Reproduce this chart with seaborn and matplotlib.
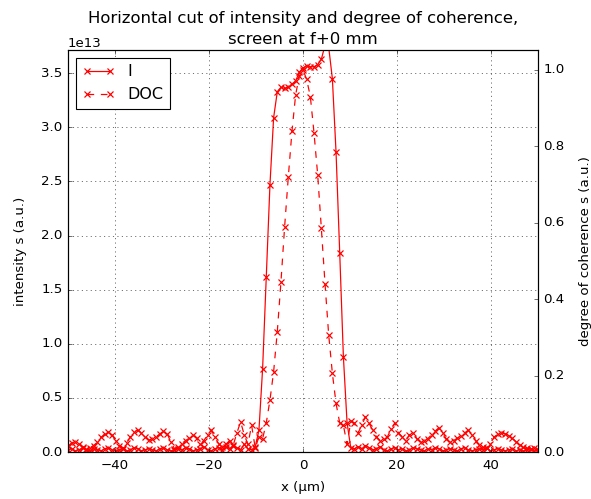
import numpy as np
import pandas as pd
import matplotlib
matplotlib.use("Agg")
import matplotlib.pyplot as plt
import seaborn as sns

plt.style.use("classic")
plt.rcParams["xtick.major.pad"] = 6
plt.rcParams["ytick.major.pad"] = 5

# sample grid (µm)
x_um = np.linspace(-50, 50, 129)

# intensity in units of 1e13
intensity_e13 = [
    0.02, 0.03, 0.01, 0.02, 0.04, 0.02, 0.01, 0.03, 0.02, 0.01,
    0.03, 0.04, 0.02, 0.01, 0.02, 0.03, 0.01, 0.02, 0.04, 0.03,
    0.01, 0.02, 0.03, 0.02, 0.01, 0.03, 0.04, 0.02, 0.01, 0.02,
    0.03, 0.02, 0.04, 0.03, 0.01, 0.02, 0.03, 0.05, 0.02, 0.01,
    0.03, 0.04, 0.02, 0.05, 0.03, 0.06, 0.04, 0.02, 0.07, 0.03,
    0.02, 0.05, 0.20, 0.77, 1.62, 2.47, 3.09, 3.33, 3.37, 3.36,
    3.37, 3.40, 3.43, 3.51, 3.55, 3.57, 3.56, 3.56, 3.58, 3.63,
    3.76, 3.74, 3.45, 2.77, 1.84, 0.88, 0.27, 0.04, 0.03,
    0.05, 0.03, 0.06, 0.04, 0.02, 0.03, 0.05, 0.02, 0.01, 0.03,
    0.04, 0.02, 0.03, 0.01, 0.02, 0.04, 0.03, 0.02, 0.01, 0.03,
    0.02, 0.04, 0.03, 0.01, 0.02, 0.03, 0.02, 0.01, 0.03, 0.04,
    0.02, 0.01, 0.02, 0.03, 0.02, 0.04, 0.01, 0.02, 0.03, 0.02,
    0.01, 0.02, 0.03, 0.01, 0.02, 0.01, 0.02, 0.03, 0.01, 0.02,
]

# degree of coherence
doc = [
    0.015, 0.024, 0.027, 0.022, 0.014, 0.009, 0.011, 0.017, 0.026, 0.038,
    0.047, 0.052, 0.044, 0.030, 0.016, 0.010, 0.024, 0.040, 0.053, 0.057,
    0.050, 0.040, 0.031, 0.034, 0.040, 0.047, 0.055, 0.048, 0.026, 0.009,
    0.014, 0.022, 0.030, 0.036, 0.044, 0.037, 0.020, 0.030, 0.045, 0.057,
    0.040, 0.022, 0.013, 0.020, 0.030, 0.018, 0.050, 0.079, 0.045, 0.020,
    0.070, 0.010, 0.040, 0.035, 0.076, 0.136, 0.210, 0.315, 0.446, 0.590,
    0.720, 0.840, 0.935, 0.985, 1.000, 0.975, 0.930, 0.835, 0.725, 0.585,
    0.440, 0.306, 0.206, 0.127, 0.076, 0.070, 0.020, 0.080, 0.076,
    0.050, 0.070, 0.092, 0.075, 0.057, 0.040, 0.030, 0.035, 0.040, 0.060,
    0.076, 0.050, 0.040, 0.030, 0.045, 0.050, 0.035, 0.027, 0.030, 0.035,
    0.045, 0.055, 0.063, 0.050, 0.035, 0.027, 0.030, 0.036, 0.042, 0.050,
    0.057, 0.045, 0.030, 0.018, 0.012, 0.010, 0.022, 0.038, 0.048, 0.050,
    0.048, 0.042, 0.036, 0.027, 0.018, 0.012, 0.010, 0.008, 0.010, 0.006,
]

title_lines = ["Horizontal cut of intensity and degree of coherence,",
               "screen at f+0 mm"]

df = pd.DataFrame({
    "x": x_um,
    "I": np.array(intensity_e13) * 1e13,
    "DOC": doc,
})

fig = plt.figure(figsize=(591 / 80, 499 / 80), dpi=80)
ax = fig.add_axes([68 / 591, 1 - 452 / 499, (538 - 68) / 591, (452 - 50) / 499])
ax2 = ax.twinx()

sns.lineplot(data=df, x="x", y="I", ax=ax, color="red", marker="x",
             markeredgecolor="red", markeredgewidth=1.1, markersize=6,
             linewidth=1.1, label="I", legend=False)
sns.lineplot(data=df, x="x", y="DOC", ax=ax2, color="red", marker="x",
             markeredgecolor="red", markeredgewidth=1.1, markersize=6,
             linewidth=1.1, linestyle="--", label="DOC", legend=False)

ax.set_xlim(-50, 50)
ax.set_ylim(0, 3.715e13)
ax2.set_ylim(0, 1.052)
ax.set_xticks([-40, -20, 0, 20, 40])
ax.set_yticks([0, 0.5e13, 1e13, 1.5e13, 2e13, 2.5e13, 3e13, 3.5e13])
ax2.set_yticks([0, 0.2, 0.4, 0.6, 0.8, 1.0])
ax.grid(True)

# two-line title drawn as two separate lines
ax.annotate(title_lines[0], xy=(0.5, 1), xycoords="axes fraction",
            xytext=(0, 24.5), textcoords="offset points",
            ha="center", va="baseline", fontsize=14.8)
ax.annotate(title_lines[1], xy=(0.5, 1), xycoords="axes fraction",
            xytext=(0, 5.5), textcoords="offset points",
            ha="center", va="baseline", fontsize=14.8)

ax.set_xlabel("x (µm)", labelpad=8)
ax.set_ylabel("intensity s (a.u.)", labelpad=13)
ax2.set_ylabel("degree of coherence s (a.u.)", labelpad=13)

h1, l1 = ax.get_legend_handles_labels()
h2, l2 = ax2.get_legend_handles_labels()
ax2.legend(h1 + h2, l1 + l2, loc="upper left")

fig.savefig("out.png", dpi=80)
